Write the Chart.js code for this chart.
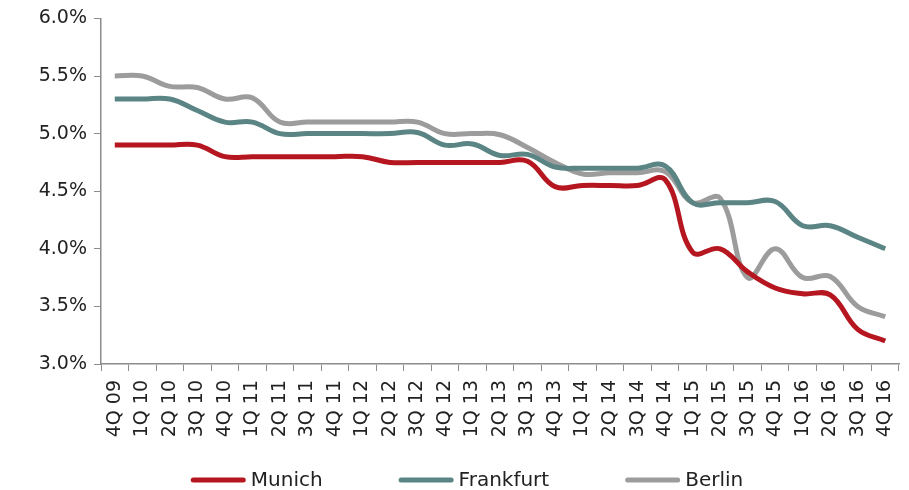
<!DOCTYPE html>
<html>
<head>
<meta charset="utf-8">
<script src="https://cdn.jsdelivr.net/npm/chart.js@4.4.0/dist/chart.umd.min.js"></script>
<style>
  html, body { margin: 0; padding: 0; background: #fff; }
  #wrap { width: 909px; height: 490px; }
</style>
</head>
<body>
<div id="wrap"><canvas id="yields"></canvas></div>
<script>
// quarters, 4Q 09 .. 4Q 16
const quarters = ['4Q 09','1Q 10','2Q 10','3Q 10','4Q 10','1Q 11','2Q 11','3Q 11','4Q 11',
  '1Q 12','2Q 12','3Q 12','4Q 12','1Q 13','2Q 13','3Q 13','4Q 13','1Q 14','2Q 14','3Q 14',
  '4Q 14','1Q 15','2Q 15','3Q 15','4Q 15','1Q 16','2Q 16','3Q 16','4Q 16'];

// prime yields in %
const munich = [4.9,4.9,4.9,4.9,4.8,4.8,4.8,4.8,4.8,4.8,4.75,4.75,4.75,4.75,4.75,4.76,4.54,
  4.55,4.55,4.55,4.6,3.97,4.0,3.8,3.66,3.61,3.6,3.3,3.2];
const frankfurt = [5.3,5.3,5.3,5.2,5.1,5.1,5.0,5.0,5.0,5.0,5.0,5.01,4.9,4.91,4.81,4.82,4.71,
  4.7,4.7,4.7,4.72,4.4,4.4,4.4,4.41,4.2,4.2,4.1,4.0];
const berlin = [5.5,5.5,5.41,5.4,5.3,5.31,5.1,5.1,5.1,5.1,5.1,5.1,5.0,5.0,4.99,4.88,4.75,
  4.65,4.66,4.66,4.67,4.4,4.44,3.75,4.0,3.75,3.76,3.5,3.41];

const yTicks = [3.0, 3.5, 4.0, 4.5, 5.0, 5.5, 6.0];

const axisGrey = '#8c8c8c';
const textColor = '#222';
const font = { family: 'DejaVu Sans', size: 19 };

function series(label, data, color) {
    return {
        label: label,
        data: data,
        borderColor: color,
        backgroundColor: color,
        borderWidth: 5,
        pointRadius: 0,
        tension: 0.4,
        fill: false
    };
}

// legend drawn below the axis labels, line swatches with wide gaps
const bottomLegend = {
    id: 'bottomLegend',
    afterDraw(chart) {
        const c = chart.ctx;
        const sets = chart.data.datasets;
        const swatch = 55, gap = 5, spacing = 76, cy = 480;
        c.save();
        c.font = '20px "' + font.family + '"';
        c.textBaseline = 'middle';
        const widths = sets.map(ds => swatch + gap + c.measureText(ds.label).width);
        const total = widths.reduce((a, b) => a + b, 0) + spacing * (sets.length - 1);
        let x = 467 - total / 2;
        sets.forEach(function (ds, i) {
            c.strokeStyle = ds.borderColor;
            c.lineWidth = 5;
            c.lineCap = 'round';
            c.beginPath();
            c.moveTo(x + 2.5, cy);
            c.lineTo(x + swatch - 2.5, cy);
            c.stroke();
            c.fillStyle = textColor;
            c.fillText(ds.label, x + swatch + gap, cy + 1);
            x += widths[i] + spacing;
        });
        c.restore();
    }
};

const ctx = document.getElementById('yields').getContext('2d');
new Chart(ctx, {
    type: 'line',
    data: {
        labels: quarters,
        datasets: [
            series('Munich', munich, '#b5161f'),
            series('Frankfurt', frankfurt, '#5b8484'),
            series('Berlin', berlin, '#9c9c9c')
        ]
    },
    plugins: [bottomLegend],
    options: {
        responsive: true,
        maintainAspectRatio: false,
        animation: false,
        layout: { padding: { top: 18, right: 10, left: 0, bottom: 44 } },
        plugins: {
            tooltip: { enabled: false },
            legend: { display: false }
        },
        scales: {
            x: {
                offset: true,
                afterFit: function (scale) {
                    scale.height = 82;
                    scale.paddingLeft = 0;
                    scale.paddingRight = 0;
                },
                grid: { display: true, offset: true, drawOnChartArea: false, tickLength: 7, color: axisGrey },
                border: { color: axisGrey, width: 1.5 },
                ticks: { color: textColor, font: font, minRotation: 90, maxRotation: 90, autoSkip: false, padding: 9 }
            },
            y: {
                min: 3.0,
                max: 6.0,
                afterBuildTicks: function (scale) {
                    scale.ticks = yTicks.map(v => ({ value: v }));
                },
                afterFit: function (scale) { scale.width = 101; },
                grid: { display: true, drawOnChartArea: false, tickLength: 7, color: axisGrey },
                border: { color: axisGrey, width: 1.5 },
                ticks: {
                    color: textColor,
                    font: font,
                    padding: 7,
                    callback: v => v.toFixed(1) + '%'
                }
            }
        }
    }
});
</script>
</body>
</html>
